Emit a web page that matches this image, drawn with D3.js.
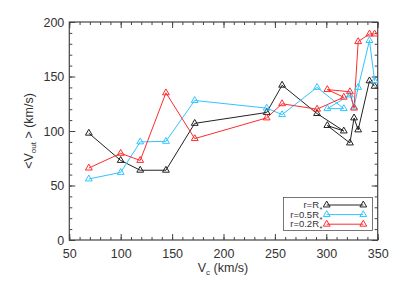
<!DOCTYPE html>
<html><head><meta charset="utf-8">
<script src="https://cdn.jsdelivr.net/npm/d3@7"></script>
<style>body{margin:0;background:#fff}svg{display:block;font-family:"Liberation Sans",Arial,sans-serif}</style>
</head><body><svg id="c" width="399" height="285"></svg>
<script>
const vc = [69, 100, 119, 144, 172, 242, 257, 291, 317, 301, 323, 327, 331, 342, 347];
const vR   = [98, 73, 64, 64, 107, 117, 142, 116, 100, 105, 89, 112, 101, 146, 141];
const v05R = [56, 62, 90, 90.5, 128, 121, 115, 140, 120.5, 120.5, 133, 122, 140, 183, 146];
const v02R = [66, 79.5, 73, 135, 93, 112, 125, 120, 131, 138, 136, 121, 182, 189, 189];
const seriesNames = ["r=R", "r=0.5R", "r=0.2R"];
const seriesColors = ["#222222", "#33c4ff", "#ff2b2b"];
const xTicks = [50, 100, 150, 200, 250, 300, 350];
const yTicks = [0, 50, 100, 150, 200];

const svg = d3.select("#c");
const x = d3.scaleLinear().domain([50, 350]).range([69.3, 377.7]);
const y = d3.scaleLinear().domain([0, 200]).range([240, 22]);
const axisCol = "#444";

// frame
svg.append("rect").attr("x", x(50)).attr("y", y(200)).attr("width", x(350) - x(50)).attr("height", y(0) - y(200))
  .attr("fill", "none").attr("stroke", axisCol).attr("stroke-width", 1.2);

function ticks(axisGen, transform, major, minor) {
  const gMaj = svg.append("g").attr("transform", transform).call(axisGen.tickValues(major).tickSize(major.sz));
}
const xMinor = d3.range(50, 351, 10), yMinor = d3.range(0, 201, 10);
// bottom
const gb = svg.append("g").attr("transform", `translate(0,${y(0)})`);
gb.call(d3.axisTop(x).tickValues(xMinor).tickSize(3).tickFormat(""));
gb.append("g").call(d3.axisTop(x).tickValues(xTicks).tickSize(6).tickFormat(""));
const gbl = svg.append("g").attr("transform", `translate(0,${y(0)})`)
  .call(d3.axisBottom(x).tickValues(xTicks).tickSize(0).tickPadding(9).tickFormat(d3.format("d")));
// top
const gt = svg.append("g").attr("transform", `translate(0,${y(200)})`);
gt.call(d3.axisBottom(x).tickValues(xMinor).tickSize(3).tickFormat(""));
gt.append("g").call(d3.axisBottom(x).tickValues(xTicks).tickSize(6).tickFormat(""));
// left
const gl = svg.append("g").attr("transform", `translate(${x(50)},0)`);
gl.call(d3.axisRight(y).tickValues(yMinor).tickSize(3).tickFormat(""));
gl.append("g").call(d3.axisRight(y).tickValues(yTicks).tickSize(6).tickFormat(""));
const gll = svg.append("g").attr("transform", `translate(${x(50)},0)`)
  .call(d3.axisLeft(y).tickValues(yTicks).tickSize(0).tickPadding(5).tickFormat(d3.format("d")));
// right
const gr = svg.append("g").attr("transform", `translate(${x(350)},0)`);
gr.call(d3.axisLeft(y).tickValues(yMinor).tickSize(3).tickFormat(""));
gr.append("g").call(d3.axisLeft(y).tickValues(yTicks).tickSize(6).tickFormat(""));

svg.selectAll(".domain").remove();
svg.selectAll(".tick line").attr("stroke", axisCol).attr("stroke-width", 1);
svg.selectAll(".tick text").attr("fill", "#333").attr("font-size", 12.5).attr("font-family", "Liberation Sans, Arial, sans-serif");

// series
const allSeries = [vR, v05R, v02R];
const line = d3.line().x((d, i) => x(vc[i])).y(d => y(d));
const tri = d3.symbol(d3.symbolTriangle).size(20);
allSeries.forEach((vals, s) => {
  svg.append("path").datum(vals).attr("d", line).attr("fill", "none")
    .attr("stroke", seriesColors[s]).attr("stroke-width", 1);
});
allSeries.forEach((vals, s) => {
  svg.append("g").selectAll("path").data(vals).join("path")
    .attr("d", tri).attr("transform", (d, i) => `translate(${x(vc[i])},${y(d)})`)
    .attr("fill", "none").attr("stroke", seriesColors[s]).attr("stroke-width", 1);
});

// legend
const lg = svg.append("g");
lg.append("rect").attr("x", 283.5).attr("y", 197.5).attr("width", 89).attr("height", 33)
  .attr("fill", "#fff").attr("stroke", "#555").attr("stroke-width", 0.8);
seriesNames.forEach((nm, s) => {
  const yy = 205 + s * 9.6;
  const t = lg.append("text").attr("x", 319).attr("y", yy + 3).attr("text-anchor", "end")
    .attr("font-size", 9.5).attr("fill", "#333");
  t.append("tspan").text(nm);
  lg.append("text").attr("x", 319.5).attr("y", yy + 7).attr("font-size", 7.5).attr("fill", "#333").text("*");
  lg.append("line").attr("x1", 326.7).attr("x2", 363.3).attr("y1", yy).attr("y2", yy)
    .attr("stroke", seriesColors[s]).attr("stroke-width", 1);
  [326.7, 363.3].forEach(px => {
    lg.append("path").attr("d", tri).attr("transform", `translate(${px},${yy})`)
      .attr("fill", "none").attr("stroke", seriesColors[s]).attr("stroke-width", 1);
  });
});

// axis titles
const xt = svg.append("text").attr("x", 223).attr("y", 272).attr("text-anchor", "middle")
  .attr("font-size", 12.5).attr("fill", "#333");
xt.append("tspan").text("V");
xt.append("tspan").attr("font-size", 8).attr("dy", 3).text("c");
xt.append("tspan").attr("dy", -3).text(" (km/s)");

const yt = svg.append("text").attr("transform", `translate(33,${(y(0) + y(200)) / 2}) rotate(-90)`)
  .attr("text-anchor", "middle").attr("font-size", 12.5).attr("fill", "#333");
yt.append("tspan").text("<V");
yt.append("tspan").attr("font-size", 8).attr("dy", 3).text("out");
yt.append("tspan").attr("dy", -3).text(" > (km/s)");
</script></body></html>
